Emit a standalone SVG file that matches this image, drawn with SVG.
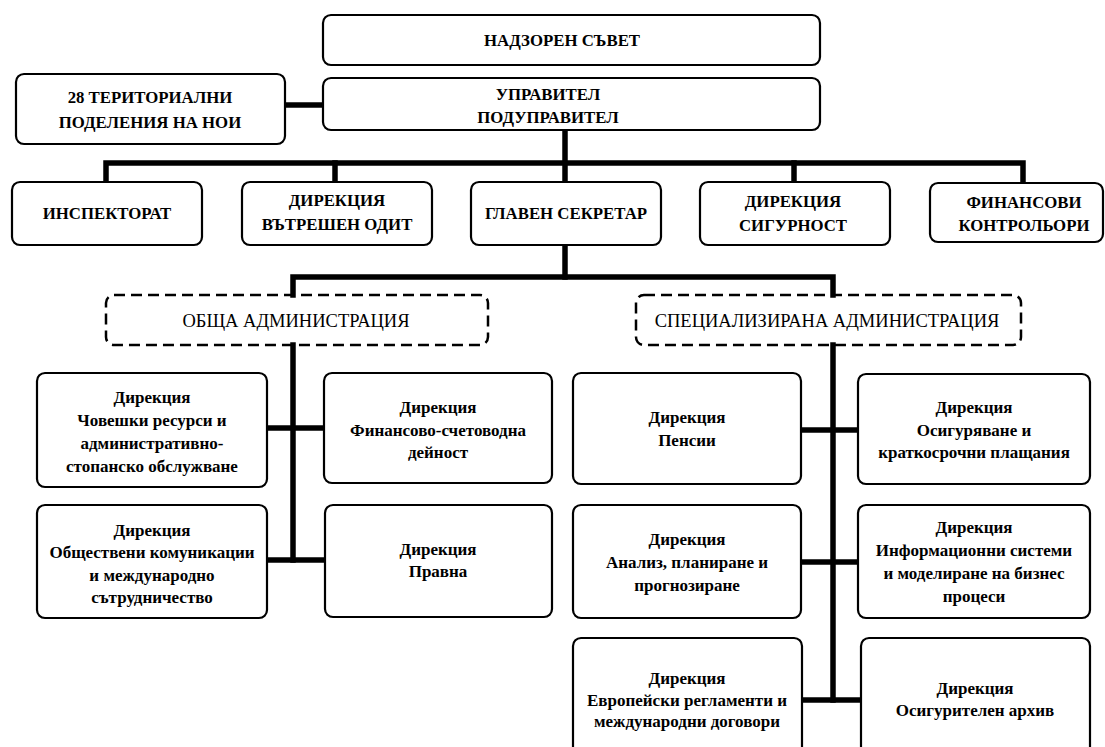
<svg xmlns="http://www.w3.org/2000/svg" width="1105" height="747" viewBox="0 0 1105 747">
<style>
.box{fill:#fff;stroke:#000;stroke-width:2.2}
.dash{fill:none;stroke:#000;stroke-width:2.5;stroke-dasharray:11 6}
.c{fill:none;stroke:#000;stroke-width:5.5;stroke-linecap:square}
.cap{font-family:"Liberation Serif","Times New Roman",serif;font-weight:bold;font-size:16.8px;text-anchor:middle;fill:#000}
.reg{font-family:"Liberation Serif","Times New Roman",serif;font-size:18.5px;text-anchor:middle;fill:#000}
.low{font-family:"Liberation Serif","Times New Roman",serif;font-weight:bold;font-size:17px;text-anchor:middle;fill:#000}
</style>
<rect width="1105" height="747" fill="#fff"/>
<g id="connectors">
<path class="c" d="M285,105H323"/>
<path class="c" d="M565,130V182"/>
<path class="c" d="M106,182V163H1023V182"/>
<path class="c" d="M335,163V182"/>
<path class="c" d="M794,163V182"/>
<path class="c" d="M565,245V277"/>
<path class="c" d="M293,295V277H833V295"/>
<path class="c" d="M293,345V560"/>
<path class="c" d="M267,428H324"/>
<path class="c" d="M267,560H325"/>
<path class="c" d="M833,345V700"/>
<path class="c" d="M801,430H858"/>
<path class="c" d="M801,562H858"/>
<path class="c" d="M802,700H861"/>
</g>
<g id="n-nadzoren"><rect class="box" x="323" y="15" width="497" height="50" rx="8"/><text class="cap" x="562" y="46">НАДЗОРЕН СЪВЕТ</text></g>
<g id="n-upravitel"><rect class="box" x="323" y="78" width="497" height="52" rx="8"/><text class="cap" x="548" y="100">УПРАВИТЕЛ</text><text class="cap" x="548" y="123">ПОДУПРАВИТЕЛ</text></g>
<g id="n-teritorialni"><rect class="box" x="16" y="74" width="269" height="70" rx="8"/><text class="cap" x="150" y="103">28 ТЕРИТОРИАЛНИ</text><text class="cap" x="150" y="128">ПОДЕЛЕНИЯ НА НОИ</text></g>
<g id="n-inspektorat"><rect class="box" x="12" y="182" width="190" height="63" rx="8"/><text class="cap" x="107" y="219">ИНСПЕКТОРАТ</text></g>
<g id="n-odit"><rect class="box" x="242" y="182" width="190" height="63" rx="8"/><text class="cap" x="337" y="206">ДИРЕКЦИЯ</text><text class="cap" x="337" y="230">ВЪТРЕШЕН ОДИТ</text></g>
<g id="n-glaven"><rect class="box" x="471" y="182" width="190" height="63" rx="8"/><text class="cap" x="566" y="219">ГЛАВЕН СЕКРЕТАР</text></g>
<g id="n-sigurnost"><rect class="box" x="700" y="182" width="190" height="63" rx="8"/><text class="cap" x="793" y="207">ДИРЕКЦИЯ</text><text class="cap" x="793" y="231">СИГУРНОСТ</text></g>
<g id="n-kontrolori"><rect class="box" x="930" y="183" width="173" height="59" rx="8"/><text class="cap" x="1024" y="208">ФИНАНСОВИ</text><text class="cap" x="1024" y="231">КОНТРОЛЬОРИ</text></g>
<g id="n-obshta"><rect class="dash" x="106" y="295" width="382" height="50" rx="8"/><text class="reg" x="296" y="327">ОБЩА АДМИНИСТРАЦИЯ</text></g>
<g id="n-spec"><rect class="dash" x="636" y="295" width="385" height="50" rx="8"/><text class="reg" x="827" y="327">СПЕЦИАЛИЗИРАНА АДМИНИСТРАЦИЯ</text></g>
<g id="n-chr"><rect class="box" x="37" y="373" width="230" height="114" rx="8"/><text class="low" x="152" y="403">Дирекция</text><text class="low" x="152" y="426">Човешки ресурси и</text><text class="low" x="152" y="449">административно-</text><text class="low" x="152" y="472">стопанско обслужване</text></g>
<g id="n-fin"><rect class="box" x="324" y="373" width="228" height="110" rx="8"/><text class="low" x="438" y="413">Дирекция</text><text class="low" x="438" y="436">Финансово-счетоводна</text><text class="low" x="438" y="458">дейност</text></g>
<g id="n-obsht"><rect class="box" x="37" y="505" width="230" height="113" rx="8"/><text class="low" x="152" y="536">Дирекция</text><text class="low" x="152" y="558">Обществени комуникации</text><text class="low" x="152" y="581">и международно</text><text class="low" x="152" y="603">сътрудничество</text></g>
<g id="n-pravna"><rect class="box" x="325" y="505" width="227" height="112" rx="8"/><text class="low" x="438" y="555">Дирекция</text><text class="low" x="438" y="577">Правна</text></g>
<g id="n-pensii"><rect class="box" x="573" y="373" width="228" height="111" rx="8"/><text class="low" x="687" y="423">Дирекция</text><text class="low" x="687" y="446">Пенсии</text></g>
<g id="n-osig"><rect class="box" x="858" y="374" width="232" height="110" rx="8"/><text class="low" x="974" y="413">Дирекция</text><text class="low" x="974" y="436">Осигуряване и</text><text class="low" x="974" y="458">краткосрочни плащания</text></g>
<g id="n-analiz"><rect class="box" x="573" y="505" width="228" height="113" rx="8"/><text class="low" x="687" y="545">Дирекция</text><text class="low" x="687" y="568">Анализ, планиране и</text><text class="low" x="687" y="591">прогнозиране</text></g>
<g id="n-info"><rect class="box" x="858" y="505" width="232" height="113" rx="8"/><text class="low" x="974" y="533">Дирекция</text><text class="low" x="974" y="556">Информационни системи</text><text class="low" x="974" y="579">и моделиране на бизнес</text><text class="low" x="974" y="602">процеси</text></g>
<g id="n-evro"><rect class="box" x="573" y="638" width="229" height="130" rx="8"/><text class="low" x="687" y="684">Дирекция</text><text class="low" x="687" y="706">Европейски регламенти и</text><text class="low" x="687" y="727">международни договори</text></g>
<g id="n-arhiv"><rect class="box" x="861" y="638" width="229" height="130" rx="8"/><text class="low" x="975" y="694">Дирекция</text><text class="low" x="975" y="716">Осигурителен архив</text></g>
</svg>
